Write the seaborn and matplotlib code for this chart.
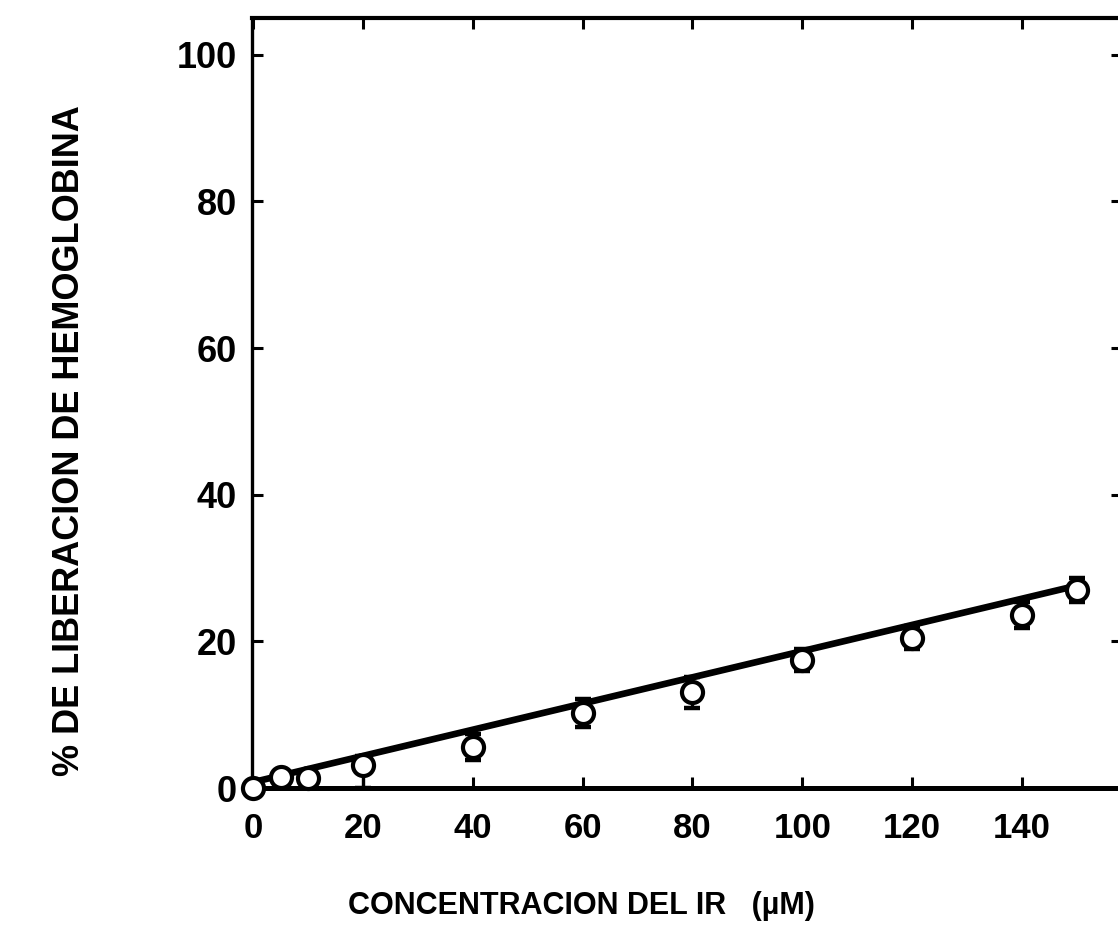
import matplotlib
matplotlib.use("Agg")
import matplotlib.pyplot as plt
import seaborn as sns
import pandas as pd
import numpy as np

# ---- data ----
conc = [0, 5, 10, 20, 40, 60, 80, 100, 120, 140, 150]
release = [0.0, 1.5, 1.4, 3.1, 5.6, 10.2, 13.1, 17.5, 20.5, 23.6, 27.0]
err_low = [0.0, 0.8, 0.8, 3.1, 1.8, 1.9, 2.2, 1.5, 1.6, 1.8, 1.7]
err_high = [0.0, 0.8, 0.8, 1.2, 1.8, 1.9, 2.0, 1.5, 1.6, 1.8, 1.7]
fit_x = [0, 150]
fit_y = [0.8, 27.6]
xticks = [0, 20, 40, 60, 80, 100, 120, 140]
yticks = [0, 20, 40, 60, 80, 100]

sns.set_theme(style="ticks")
plt.rcParams['font.family'] = ['Liberation Sans', 'DejaVu Sans']
plt.rcParams['font.weight'] = 'bold'
plt.rcParams['text.color'] = 'black'
plt.rcParams['xtick.color'] = 'black'
plt.rcParams['ytick.color'] = 'black'
plt.rcParams['xtick.labelcolor'] = 'black'
plt.rcParams['ytick.labelcolor'] = 'black'

fig = plt.figure(figsize=(11.18, 9.49), dpi=100)
ax = fig.add_axes([252/1118, (949-788)/949, (1122-252)/1118, (788-18)/949])

df = pd.DataFrame({"x": conc, "y": release, "lo": err_low, "hi": err_high})
fit = pd.DataFrame({"x": fit_x, "y": fit_y})

sns.lineplot(data=fit, x="x", y="y", ax=ax, color="black", lw=4.8, zorder=2)
ax.errorbar(df["x"], df["y"], yerr=[df["lo"], df["hi"]], fmt="none", ecolor="black",
            elinewidth=2.4, capsize=6, capthick=3.2, zorder=3, clip_on=False)
sns.scatterplot(data=df, x="x", y="y", ax=ax, s=230, marker="o",
                facecolor="white", edgecolor="black", linewidth=3.0,
                zorder=4, clip_on=False)

ax.set_xlim(-0.2, 158.2)
ax.set_ylim(0, 105)
ax.set_xticks(xticks)
ax.set_yticks(yticks)
ax.set_xticklabels([str(v) for v in xticks], fontsize=25, fontweight='bold')
ax.set_yticklabels([str(v) for v in yticks], fontsize=26, fontweight='bold')
ax.tick_params(axis='both', direction='in', length=8, width=2.2,
               top=True, right=True, color='black', labelcolor='black')
ax.tick_params(axis='x', pad=17)
ax.tick_params(axis='y', pad=11)
ax.set_xlabel("")
ax.set_ylabel("")

for side, lw in [("left", 2.4), ("bottom", 3.6), ("top", 3.0), ("right", 3.0)]:
    ax.spines[side].set_linewidth(lw)
    ax.spines[side].set_color("black")

fig.text(581/1118, 1 - 906/949, "CONCENTRACION DEL IR   (\u00b5M)",
         ha="center", va="center", fontsize=22, fontweight="bold", color="black")
fig.text(70/1118, 1 - 441/949, "% DE LIBERACION DE HEMOGLOBINA",
         ha="center", va="center", rotation=90, fontsize=26, fontweight="bold",
         color="black")

fig.savefig("out.png", dpi=100)
